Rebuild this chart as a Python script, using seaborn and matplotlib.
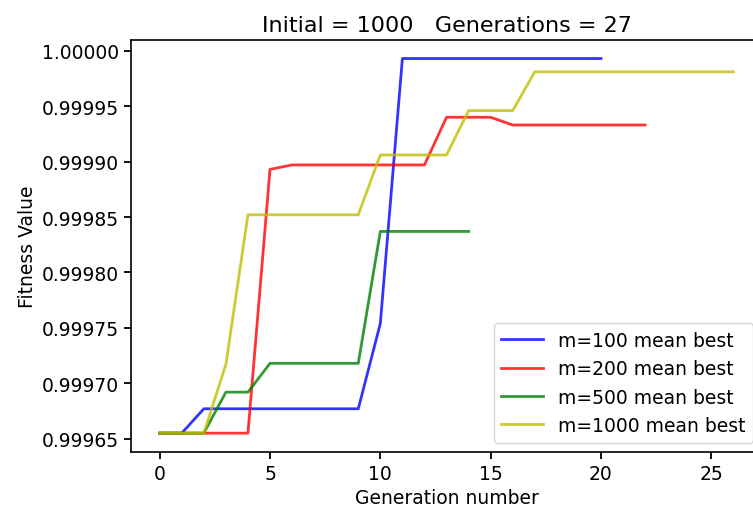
import matplotlib
matplotlib.use('Agg')
import matplotlib.pyplot as plt
from matplotlib.ticker import FormatStrFormatter
import pandas as pd
import seaborn as sns

# mean best fitness per generation, one list per population size
m100 = [0.999655, 0.999655, 0.999677, 0.999677, 0.999677, 0.999677, 0.999677,
        0.999677, 0.999677, 0.999677, 0.999754, 0.999993, 0.999993, 0.999993,
        0.999993, 0.999993, 0.999993, 0.999993, 0.999993, 0.999993, 0.999993]
m200 = [0.999655, 0.999655, 0.999655, 0.999655, 0.999655, 0.999893, 0.999897,
        0.999897, 0.999897, 0.999897, 0.999897, 0.999897, 0.999897, 0.999940,
        0.999940, 0.999940, 0.999933, 0.999933, 0.999933, 0.999933, 0.999933,
        0.999933, 0.999933]
m500 = [0.999655, 0.999655, 0.999655, 0.999692, 0.999692, 0.999718, 0.999718,
        0.999718, 0.999718, 0.999718, 0.999837, 0.999837, 0.999837, 0.999837,
        0.999837]
m1000 = [0.999655, 0.999655, 0.999655, 0.999717, 0.999852, 0.999852, 0.999852,
         0.999852, 0.999852, 0.999852, 0.999906, 0.999906, 0.999906, 0.999906,
         0.999946, 0.999946, 0.999946, 0.999981, 0.999981, 0.999981, 0.999981,
         0.999981, 0.999981, 0.999981, 0.999981, 0.999981, 0.999981]

series = {
    "m=100 mean best": m100,
    "m=200 mean best": m200,
    "m=500 mean best": m500,
    "m=1000 mean best": m1000,
}
colors = ["b", "r", "g", "y"]

rows = []
for name, vals in series.items():
    for gen, v in enumerate(vals):
        rows.append({"generation": gen, "fitness": v, "run": name})
df = pd.DataFrame(rows)

fig, ax = plt.subplots(figsize=(7.53, 5.10), dpi=100)
sns.lineplot(data=df, x="generation", y="fitness", hue="run",
             palette=dict(zip(series.keys(), colors)), alpha=0.8,
             linewidth=2, ax=ax)

ax.yaxis.set_major_formatter(FormatStrFormatter('%.5f'))
ax.set_title("Initial = 1000   Generations = 27", fontsize=16)
ax.set_xlabel("Generation number", fontsize=13.5)
ax.set_ylabel("Fitness Value", fontsize=13.5)
ax.tick_params(labelsize=13.5, width=1.3, length=5)
for sp in ax.spines.values():
    sp.set_linewidth(1.2)
ax.legend(loc="lower right", title=None, fontsize=13.5, handlelength=2.2)
ax.set_xticks([0, 5, 10, 15, 20, 25])

# the reference is cropped on the right, so the axes run past the edge
fig.subplots_adjust(left=0.174, right=1.012, top=0.92, bottom=0.112)
fig.savefig("out.png")
plt.close(fig)
